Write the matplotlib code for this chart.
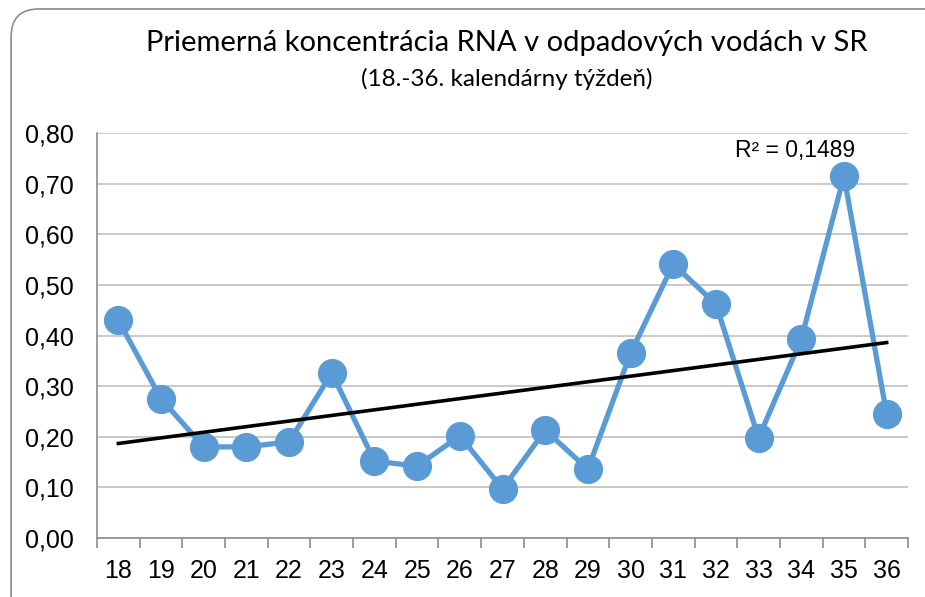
import numpy as np
import matplotlib
matplotlib.use("Agg")
from matplotlib import pyplot as plt
from matplotlib.patches import FancyBboxPatch

# data
weeks = [str(w) for w in range(18, 37)]
rna = [0.43, 0.275, 0.18, 0.18, 0.19, 0.326, 0.152, 0.142, 0.202, 0.097,
       0.213, 0.136, 0.365, 0.541, 0.462, 0.198, 0.393, 0.715, 0.245]
y_ticks = [0.0, 0.1, 0.2, 0.3, 0.4, 0.5, 0.6, 0.7, 0.8]
title = "Priemerná koncentrácia RNA v odpadových vodách v SR"
subtitle = "(18.-36. kalendárny týždeň)"
r2_text = "R² = 0,1489"

blue = "#5b9bd5"
grid = "#c0c0c0"

fig = plt.figure(figsize=(9.25, 5.97), dpi=100)

# rounded chart frame
frame = FancyBboxPatch((0.012, -0.05), 1.05, 1.035, transform=fig.transFigure,
                       boxstyle="round,pad=0,rounding_size=0.03",
                       fc="none", ec="#8c8c8c", lw=1.2, mutation_aspect=925 / 597,
                       zorder=-5)
fig.patches.append(frame)

ax = fig.add_axes([0.1049, 0.0988, 0.8767, 0.6784])
x = np.arange(len(weeks))

# linear trendline
k, q = np.polyfit(x, rna, 1)
ax.plot(x, k * x + q, color="black", lw=2.6, zorder=4)

ax.plot(x, rna, color=blue, lw=3.8, marker="o", ms=20, zorder=3,
        solid_capstyle="round")

ax.set_xlim(-0.5, len(weeks) - 0.5)
ax.set_ylim(0, 0.8)
ax.set_yticks(y_ticks)
ax.set_yticklabels([f"{v:.2f}".replace(".", ",") for v in y_ticks])
ax.set_xticks(x)
ax.set_xticklabels(weeks)
ax.set_xticks(np.arange(-0.5, len(weeks)), minor=True)
ax.tick_params(axis="x", which="major", length=0, pad=15)
ax.tick_params(axis="x", which="minor", length=7, color="#8c8c8c", width=1.2)
ax.tick_params(axis="y", length=0, pad=17)
for lab in ax.get_xticklabels() + ax.get_yticklabels():
    lab.set_fontsize(18)
    lab.set_family("Liberation Sans")

ax.grid(axis="y", color=grid, lw=1.2)
ax.set_axisbelow(True)
for s in ["top", "right"]:
    ax.spines[s].set_visible(False)
ax.spines["left"].set_color("#8c8c8c")
ax.spines["bottom"].set_color("#8c8c8c")
ax.spines["left"].set_linewidth(1.2)
ax.spines["bottom"].set_linewidth(1.2)

ax.text(15.85, 0.766, r2_text, ha="center", va="center", fontsize=16.5,
        family="Liberation Sans")

fig.text(0.548, 0.928, title, ha="center", va="center", fontsize=21,
         family="Lato")
fig.text(0.548, 0.868, subtitle, ha="center", va="center", fontsize=17.5,
         family="Lato")

fig.savefig("out.png", dpi=100)
